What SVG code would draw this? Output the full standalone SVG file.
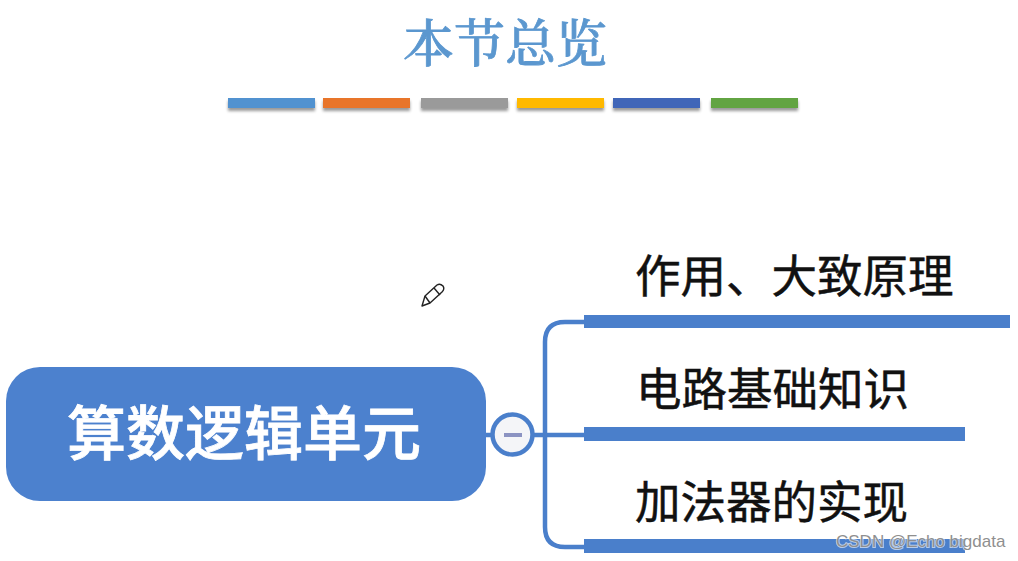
<svg xmlns="http://www.w3.org/2000/svg" width="1018" height="561" viewBox="0 0 1018 561">
<defs>
<filter id="sh" x="-10%" y="-50%" width="120%" height="220%"><feDropShadow dx="0" dy="3" stdDeviation="1.6" flood-color="#000" flood-opacity="0.4"/></filter>
</defs>
<style>
text{font-family:"Noto Sans CJK SC","Noto Sans",sans-serif}
.bar{fill:#4a7fcb}
.line{fill:none;stroke:#4a7fcb;stroke-width:4.5}
.leaf{font-size:45.5px;font-weight:400;fill:#111;stroke:#111;stroke-width:.5}
.wm{font-size:17px;font-family:"Liberation Sans",sans-serif}
</style>
<rect width="1018" height="561" fill="#fff"/>
<g id="title"><text x="505" y="62" text-anchor="middle" font-size="51" font-weight="500" fill="#5b97cf" stroke="#5b97cf" stroke-width=".8" style="font-family:'Noto Serif CJK SC','Noto Sans CJK SC',serif">本节总览</text></g>
<g id="palette" filter="url(#sh)">
<rect x="228" y="98" width="87" height="10" fill="#5192d0"/>
<rect x="323" y="98" width="87" height="10" fill="#e8742c"/>
<rect x="421" y="98" width="87" height="10" fill="#9a9a9a"/>
<rect x="517" y="98" width="87" height="10" fill="#ffb900"/>
<rect x="613" y="98" width="87" height="10" fill="#3f66b8"/>
<rect x="711" y="98" width="87" height="10" fill="#62a443"/>
</g>
<g id="connectors">
<path class="line" d="M486 435H492"/>
<path class="line" d="M532 435H584"/>
<path class="line" d="M584 322H565Q545 322 545 342V527Q545 547 565 547H584"/>
</g>
<g id="root">
<rect x="6" y="367" width="480" height="134" rx="34" fill="#4c81ce"/>
<text x="244" y="455" text-anchor="middle" font-size="59" font-weight="500" fill="#fff" stroke="#fff" stroke-width=".8">算数逻辑单元</text>
</g>
<g id="collapse">
<circle cx="512.5" cy="434.5" r="20" fill="#f4f5f8" stroke="#4a7fcb" stroke-width="4.5"/>
<rect x="504" y="433" width="18" height="4" fill="#8b93c2"/>
</g>
<g id="leaf1">
<rect class="bar" x="584" y="315" width="426" height="13"/>
<text class="leaf" x="635" y="293">作用、大致原理</text>
</g>
<g id="leaf2">
<rect class="bar" x="584" y="427" width="381" height="14"/>
<text class="leaf" x="636" y="406">电路基础知识</text>
</g>
<g id="leaf3">
<rect class="bar" x="584" y="539" width="381" height="14"/>
<text class="leaf" x="635" y="519">加法器的实现</text>
</g>
<g id="pencil" fill="#fff" stroke="#222" stroke-width="1.4" stroke-linejoin="round">
<path d="M422 306L425 296L437 285Q440 283 443 286Q445 289 442 292L430 303Z"/>
<path d="M434 288L440 295" fill="none"/>
<path d="M425 296L430 303" fill="none"/>
</g>
<g id="watermark"><text class="wm" x="836" y="547" fill="#fff" stroke="#fff" stroke-width="2" opacity="0.6">CSDN @Echo bigdata</text><text class="wm" x="836" y="547" fill="#8f8f8f">CSDN @Echo bigdata</text></g>
</svg>
